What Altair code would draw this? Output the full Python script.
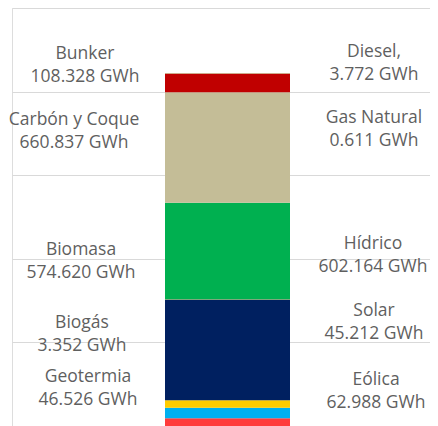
import altair as alt
import pandas as pd

# Data (bottom of stack first)
sources = ["Geotermia", "Eólica", "Solar", "Hídrico", "Biogás", "Biomasa",
           "Gas Natural", "Carbón y Coque", "Bunker", "Diesel,"]
values = [46.526, 62.988, 45.212, 602.164, 3.352, 574.620,
          0.611, 660.837, 108.328, 3.772]
colors = ["#FF3B3B", "#00B0F0", "#FFCC00", "#002060", "#7CC24B", "#00B050",
          "#A9D18E", "#C4BD97", "#C00000", "#9E5B1A"]
grid_values = [500, 1000, 1500, 2000, 2500]

# Label layout (pixel positions inside the plot area), same order as sources
label_x = [76, 364, 362, 361, 70, 69, 362, 62, 73, 362]
label_y = [369, 372, 303, 236, 315, 242, 110, 112, 46, 44]

bars = pd.DataFrame({
    "source": sources,
    "value": values,
    "order": list(range(len(sources))),
    "grp": ["total"] * len(sources),
})

labels = pd.DataFrame({
    "text": [f"{s}\n{v:.3f} GWh" for s, v in zip(sources, values)],
    "lx": label_x,
    "ly": label_y,
})

bar = alt.Chart(bars).mark_bar(size=125, xOffset=6.5).encode(
    x=alt.X("grp:N", axis=None),
    y=alt.Y("value:Q", stack="zero",
            scale=alt.Scale(domain=[0, 2500], nice=False),
            axis=alt.Axis(values=grid_values, grid=True, labels=False, ticks=False,
                          domain=False, title=None, gridColor="#D9D9D9",
                          gridWidth=1.2)),
    color=alt.Color("source:N", scale=alt.Scale(domain=sources, range=colors), legend=None),
    order=alt.Order("order:Q", sort="ascending"),
)

text = alt.Chart(labels).mark_text(
    font="Open Sans", fontSize=17.5, color="#5F5F5F", align="center",
    baseline="middle", lineHeight=22.5, lineBreak="\n"
).encode(
    x=alt.X("lx:Q", scale=alt.Scale(domain=[0, 418], range=[0, 418]), axis=None),
    y=alt.Y("ly:Q", scale=alt.Scale(domain=[0, 418], range=[0, 418]), axis=None),
    text="text:N",
)

chart = alt.layer(bar, text).resolve_scale(x="independent", y="independent").properties(
    width=418, height=418,
    autosize=alt.AutoSizeParams(type="none"),
    padding={"left": 4, "top": 0, "right": 0, "bottom": 0},
).configure_view(stroke=None).configure(background="white")

chart.save("out.html", embed_options={"renderer": "svg", "actions": False})
